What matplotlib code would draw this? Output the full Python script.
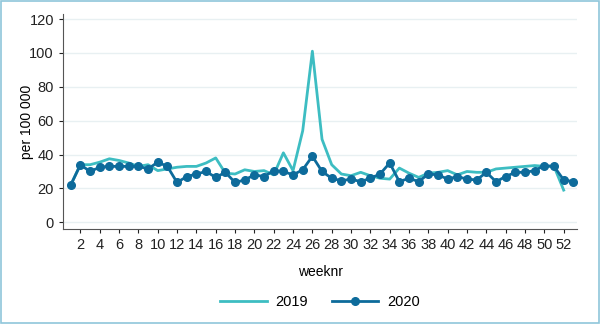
import matplotlib
matplotlib.use("Agg")
import matplotlib.pyplot as plt
from matplotlib.patches import Rectangle

plt.rcParams['font.family'] = ['Liberation Sans', 'DejaVu Sans']

weeks_2019 = list(range(1, 53))
values_2019 = [22, 34, 34, 35.5, 37.5, 36.5, 35, 33, 34, 30.5,
               31.5, 32.5, 33, 33, 35, 38, 29, 28.5, 31, 30,
               30.5, 28, 41, 30.5, 54, 101, 49, 34, 28.5, 27.5,
               29.5, 27.5, 26, 25.5, 32, 29, 26.5, 29, 29.5, 30.5,
               28, 30, 29.5, 29.5, 31.5, 32, 32.5, 33, 33.5, 33,
               33, 19]
weeks_2020 = list(range(1, 54))
values_2020 = [22, 34, 30, 32.5, 33, 33, 33, 33, 31.5, 35.5,
               33, 23.5, 27, 28.5, 30, 26.5, 29.5, 23.5, 25, 28,
               27, 30.5, 30, 28, 31, 39, 30, 26, 24.5, 25.5,
               24, 26, 28.5, 35, 24, 26, 24, 28.5, 28, 25.5,
               27, 25.5, 25, 29.5, 24, 27, 29.5, 29.5, 30.5, 33.5,
               33, 25, 24]
xticks = list(range(2, 54, 2))
yticks = [0, 20, 40, 60, 80, 100, 120]

c2019 = '#3dbdc2'
c2020 = '#0d6b9b'

fig = plt.figure(figsize=(6, 3.24), dpi=100)
ax = fig.add_axes([0.105, 0.293, 0.857, 0.664])

ax.plot(weeks_2019, values_2019, color=c2019, lw=2, label='2019', zorder=3)
ax.plot(weeks_2020, values_2020, color=c2020, lw=2, marker='o', ms=5.5, label='2020', zorder=4)

ax.set_xlim(0.2, 53.4)
ax.set_ylim(-4, 123)
ax.set_xticks(xticks)
ax.set_yticks(yticks)
ax.grid(axis='y', color='#e8f0f2', lw=1)
ax.set_axisbelow(True)
for s in ['top', 'right']:
    ax.spines[s].set_visible(False)
for s in ['left', 'bottom']:
    ax.spines[s].set_color('#555555')
    ax.spines[s].set_linewidth(0.8)
ax.tick_params(axis='both', labelsize=10.5, colors='#222222', length=3, width=0.8)
ax.set_ylabel('per 100 000', fontsize=10, labelpad=-3)
ax.set_xlabel('weeknr', fontsize=10, labelpad=9)

ax.legend(loc='center', bbox_to_anchor=(0.5, -0.34), ncol=2, frameon=False,
          fontsize=10.5, handlelength=3.2, columnspacing=1.6, handletextpad=0.6)

fig.patches.append(Rectangle((0.002, 0.003), 0.996, 0.994, transform=fig.transFigure,
                             fill=False, edgecolor='#8fc6da', lw=1.2))

fig.savefig('out.png', dpi=100)
